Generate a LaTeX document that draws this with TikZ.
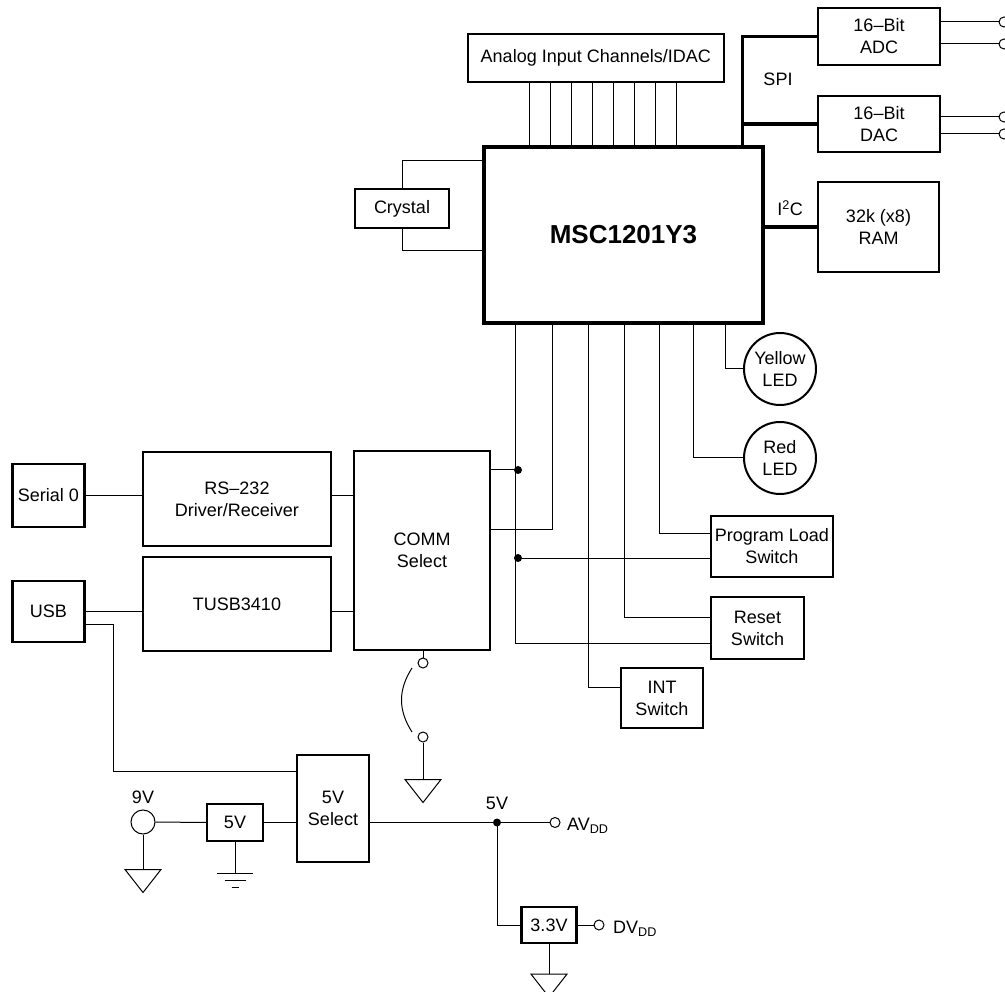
\documentclass[tikz,border=0pt]{standalone}
\usepackage{fontspec}
\setmainfont{Liberation Sans}
\usepackage{tikz}
\tikzset{
  block/.style={draw, line width=2.2pt, align=center, inner sep=0pt},
  wire/.style={line width=1pt},
  bus/.style={line width=3.4pt},
  term/.style={draw, circle, line width=1pt, minimum size=10pt, inner sep=0pt},
  led/.style={draw, circle, line width=2pt, minimum size=72pt, inner sep=0pt, align=center},
  junction/.style={circle, fill, inner sep=0pt, minimum size=8pt},
  gnd tri/.pic={
    \draw[line width=1pt] (-18,0) -- (18,0) -- (0,23) -- cycle;
  },
  earth gnd/.pic={
    \draw[line width=1pt] (-18,0) -- (18,0) (-10.5,7) -- (10.5,7) (-3.5,14) -- (3.5,14);
  },
}

\begin{document}
\begin{tikzpicture}[x=1pt, y=-1pt, font=\fontsize{18}{22}\selectfont]
\fill[white] (0,0) rectangle (1005,992);
\useasboundingbox (0,0) rectangle (1005,992);
% processor and its neighbours
\node[draw, line width=4.8pt, minimum width=279pt, minimum height=176pt, font=\fontsize{26}{30}\selectfont\bfseries] (msc) at (623.5,235) {MSC1201Y3};
\node[block, minimum width=256pt, minimum height=48pt] (ain) at (595.8,58) {Analog Input Channels/IDAC};
\node[block, minimum width=122pt, minimum height=57pt] (adc) at (879,36.5) {16–Bit\\ADC};
\node[block, minimum width=122pt, minimum height=56pt] (dac) at (879,124) {16–Bit\\DAC};
\node[block, minimum width=121pt, minimum height=90pt] (ram) at (878.5,227) {32k (x8)\\RAM};
\node[block, minimum width=94pt, minimum height=39pt] (xtal) at (402,208.5) {Crystal};
\node[led] (yled) at (780,369) {Yellow\\LED};
\node[led] (rled) at (780,458) {Red\\LED};
\node[block, minimum width=122pt, minimum height=61pt] (prog) at (772,546.5) {Program Load\\Switch};
\node[block, minimum width=93pt, minimum height=62pt] (reset) at (757.5,628) {Reset\\Switch};
\node[block, minimum width=82pt, minimum height=60pt] (int) at (662,698) {INT\\Switch};
% communication side
\node[block, minimum width=72pt, minimum height=63pt] (serial) at (48.5,495.5) {Serial 0};
\node[block, minimum width=188pt, minimum height=94pt] (rs232) at (237,499) {RS–232\\Driver/Receiver};
\node[block, minimum width=188pt, minimum height=94pt] (tusb) at (237,604) {TUSB3410};
\node[block, minimum width=72pt, minimum height=61pt] (usb) at (48.5,611.5) {USB};
\node[block, minimum width=136pt, minimum height=199pt] (comm) at (422,550.5) {COMM\\Select};
% power
\node[block, minimum width=72pt, minimum height=107pt] (sel5) at (333,808.5) {5V\\Select};
\node[block, minimum width=56pt, minimum height=37pt] (reg5) at (235,822.5) {5V};
\node[block, minimum width=55pt, minimum height=36pt] (reg33) at (549,925) {3.3V};

\node[term] (adc1) at (1004,22) {};
\node[term] (adc2) at (1004,44) {};
\node[term] (dac1) at (1004,117) {};
\node[term] (dac2) at (1004,134) {};
\draw[wire] (adc1 -| adc.east) -- (adc1.west);
\draw[wire] (adc2 -| adc.east) -- (adc2.west);
\draw[wire] (dac1 -| dac.east) -- (dac1.west);
\draw[wire] (dac2 -| dac.east) -- (dac2.west);

\foreach \i in {0,...,7}
  \draw[wire] (ain.south west) ++(63+20.9*\i,0) -- ++(0,65);

\coordinate (spi) at ([xshift=-23]msc.north east);
\draw[bus] (adc.west) -| (spi);
\draw[bus] (dac.west) -- (dac.west -| spi);
\draw[bus] (ram.west -| msc.east) -- (ram.west);
\node (spilbl) at (778,79) {SPI};
\node (i2clbl) at (790,208) {I\textsuperscript{2}C};

\draw[wire] (xtal.north) |- ([yshift=-16]msc.north west);
\draw[wire] (xtal.south) |- ([yshift=-106]msc.north west);

\draw[wire] ([xshift=244]msc.south west) |- (yled.west);
\draw[wire] ([xshift=212]msc.south west) |- (rled.west);
\draw[wire] ([xshift=178]msc.south west) |- ([yshift=13.5]prog.west);
\draw[wire] ([xshift=143]msc.south west) |- ([yshift=11]reset.west);
\draw[wire] ([xshift=107]msc.south west) |- ([yshift=11]int.west);
\draw[wire] ([xshift=71]msc.south west) |- ([yshift=21.5]comm.east);
\draw[wire] ([xshift=34]msc.south west) |- ([yshift=-15]reset.west);
\coordinate (j1) at (518,470);
\coordinate (j2) at (518,558);
\draw[wire] (comm.east |- j1) -- (j1);
\draw[wire] (j2) -- (j2 -| prog.west);
\node[junction] (j1dot) at (j1) {};
\node[junction] (j2dot) at (j2) {};

\draw[wire] (serial.east) -- (serial.east -| rs232.west);
\draw[wire] (rs232.east |- serial.east) -- (comm.west |- serial.east);
\draw[wire] (usb.east) -- (usb.east -| tusb.west);
\draw[wire] (tusb.east |- usb.east) -- (comm.west |- usb.east);
\draw[wire] ([yshift=-12.5]usb.east) -- ++(27.5,0) |- ([yshift=37.5]sel5.west);

% jumper below COMM Select
\node[term] (sw1) at (423,663) {};
\node[term] (sw2) at (423,737) {};
\draw[wire] (sw1 |- comm.south) -- (sw1.north);
\draw[wire] ([shift={(-11,5)}]sw1.center) .. controls ([shift={(-25,27)}]sw1.center) and ([shift={(-25,-27)}]sw2.center) .. ([shift={(-11,-5)}]sw2.center);
\draw[wire] (sw2.south) -- ++(0,37) pic {gnd tri};

\node[term, minimum size=24pt] (v9) at (143,822) {};
\node (v9lbl) at (143,797) {9V};
\draw[wire] (v9.south) -- ++(0,35) pic {gnd tri};
\draw[wire] (v9.east) -- (reg5.west);
\draw[wire] (reg5.east) -- (reg5.east -| sel5.west);
\draw[wire] (reg5.south) -- ++(0,31) pic {earth gnd};

\coordinate (jv) at (497,822.5);
\node[term] (av) at (555,822.5) {};
\node[term] (dv) at (599,925) {};
\draw[wire] (sel5.east |- jv) -- (jv) -- (av.west);
\draw[wire] (jv) |- (reg33.west);
\draw[wire] (reg33.east) -- (dv.west);
\draw[wire] (reg33.south) -- ++(0,30) pic {gnd tri};
\node[junction] (jvdot) at (jv) {};
\node (v5lbl) at (497,803) {5V};
\node[anchor=west, inner sep=0pt] (avlbl) at (567,826) {AV\textsubscript{DD}};
\node[anchor=west, inner sep=0pt] (dvlbl) at (613,929) {DV\textsubscript{DD}};
\end{tikzpicture}
\end{document}
